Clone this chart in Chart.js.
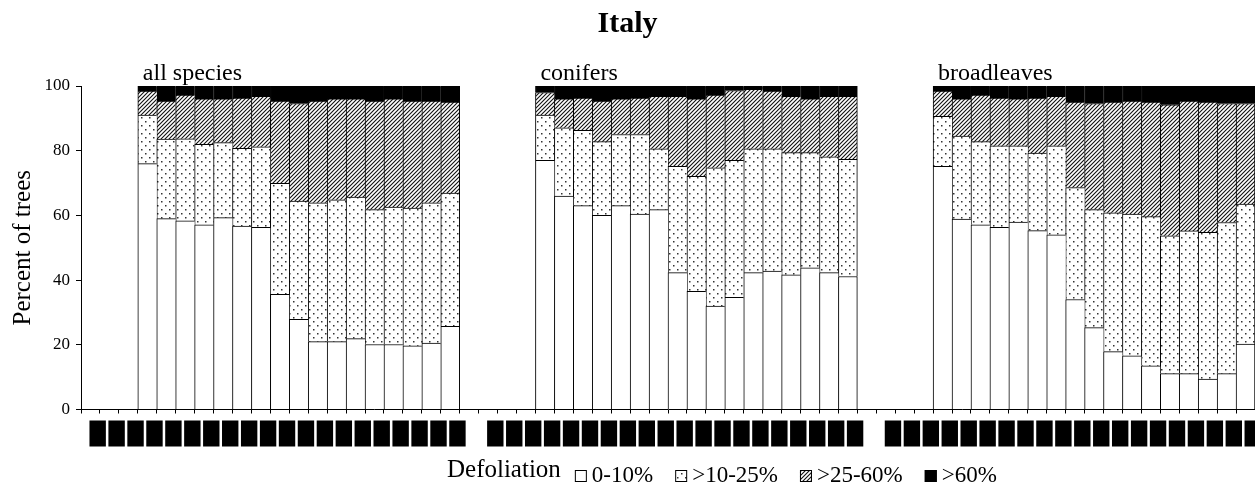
<!DOCTYPE html>
<html>
<head>
<meta charset="utf-8">
<title>Italy</title>
<script src="https://cdn.jsdelivr.net/npm/chart.js@4.4.0/dist/chart.umd.min.js"></script>
<style>
  html, body { margin: 0; padding: 0; background: #fff; }
  #wrap { width: 1255px; height: 489px; }
</style>
</head>
<body>
<div id="wrap"><canvas id="grafico"></canvas></div>
<script>
// Defoliation of trees in Italy, share of trees per class (%)
const groupNames = ['all species', 'conifers', 'broadleaves'];
const years = ['1985', '1986', '1987', '1988', '1989', '1990', '1991', '1992', '1993', '1994',
               '1995', '1996', '1997', '1998', '1999', '2000', '2001', '2002', '2003', '2004'];
const legendLabels = ['0-10%', '>10-25%', '>25-60%', '>60%'];
const firstBarSlot = 3; // no survey in the first three years

// all species
const allSpecies0_10  = [76.0, 59.0, 58.3, 57.1, 59.3, 56.7, 56.3, 35.6, 27.9, 21.0, 21.0, 21.9, 20.1, 20.1, 19.7, 20.5, 25.7];
const allSpecies10_25 = [15.0, 24.6, 25.4, 24.9, 23.2, 24.0, 24.9, 34.3, 36.5, 42.9, 43.8, 43.8, 41.7, 42.5, 42.6, 43.4, 41.2];
const allSpecies25_60 = [7.4, 11.7, 13.5, 14.0, 13.5, 15.6, 15.6, 25.4, 30.2, 31.4, 31.2, 30.3, 33.5, 33.4, 33.0, 31.4, 28.1];
const allSpecies60    = [1.6, 4.7, 2.8, 4.0, 4.0, 3.7, 3.2, 4.7, 5.4, 4.7, 4.0, 4.0, 4.7, 4.0, 4.7, 4.7, 5.0];

// conifers
const conifers0_10  = [77.0, 66.0, 63.0, 60.0, 63.0, 60.4, 61.8, 42.3, 36.5, 32.0, 34.7, 42.3, 42.8, 41.6, 43.8, 42.3, 41.1];
const conifers10_25 = [14.0, 21.1, 23.3, 22.8, 22.0, 24.6, 18.8, 32.9, 35.6, 42.7, 42.3, 38.3, 37.8, 37.8, 35.6, 35.8, 36.2];
const conifers25_60 = [7.0, 8.9, 10.0, 12.5, 11.0, 11.3, 16.2, 21.6, 23.9, 22.5, 21.6, 18.4, 17.8, 17.4, 16.6, 18.7, 19.5];
const conifers60    = [2.0, 4.0, 3.7, 4.7, 4.0, 3.7, 3.2, 3.2, 4.0, 2.8, 1.4, 1.0, 1.6, 3.2, 4.0, 3.2, 3.2];

// broadleaves
const broadleaves0_10  = [75.2, 58.9, 57.1, 56.3, 57.9, 55.3, 54.0, 34.0, 25.3, 17.9, 16.6, 13.5, 11.1, 11.1, 9.4, 11.1, 20.2];
const broadleaves10_25 = [15.4, 25.6, 25.7, 25.2, 23.6, 24.0, 27.5, 34.6, 36.5, 42.9, 43.8, 46.1, 42.6, 44.1, 45.4, 46.7, 43.3];
const broadleaves25_60 = [7.8, 11.5, 14.4, 14.8, 14.5, 17.0, 15.3, 26.4, 32.8, 34.2, 34.9, 35.4, 40.5, 40.1, 40.2, 36.8, 31.1];
const broadleaves60    = [1.6, 4.0, 2.8, 3.7, 4.0, 3.7, 3.2, 5.0, 5.4, 5.0, 4.7, 5.0, 5.8, 4.7, 5.0, 5.4, 5.4];

const FONT = '"Liberation Serif", "Times New Roman", serif';

// one category axis: three groups of years with an empty slot between them
const perClass = [
    [allSpecies0_10, conifers0_10, broadleaves0_10],
    [allSpecies10_25, conifers10_25, broadleaves10_25],
    [allSpecies25_60, conifers25_60, broadleaves25_60],
    [allSpecies60, conifers60, broadleaves60]
];
const labels = [];
const series = [[], [], [], []];
const groupStart = [];
groupNames.forEach(function(name, gi) {
    if (gi > 0) {
        labels.push('');
        series.forEach(function(s) { s.push(null); });
    }
    groupStart.push(labels.length);
    years.forEach(function(y, yi) {
        labels.push(y);
        series.forEach(function(s, ci) {
            s.push(yi < firstBarSlot ? null : perClass[ci][gi][yi - firstBarSlot]);
        });
    });
});
const groupEnd = groupStart.map(function(s) { return s + years.length - 1; });

// fill patterns
function makePattern(kind) {
    const c = document.createElement('canvas');
    const p = c.getContext('2d');
    if (kind === 'dots') {
        c.width = 8; c.height = 8;
        p.fillStyle = '#fff'; p.fillRect(0, 0, 8, 8);
        p.fillStyle = '#333';
        p.fillRect(1, 1, 1.5, 1.5);
        p.fillRect(5, 5, 1.5, 1.5);
    } else {
        c.width = 4; c.height = 4;
        p.fillStyle = '#fff'; p.fillRect(0, 0, 4, 4);
        p.strokeStyle = '#111'; p.lineWidth = 1.1;
        p.beginPath();
        p.moveTo(-1, 5); p.lineTo(5, -1);
        p.moveTo(-1, 1); p.lineTo(1, -1);
        p.moveTo(3, 5); p.lineTo(5, 3);
        p.stroke();
    }
    return p.createPattern(c, 'repeat');
}
const fills = ['#ffffff', makePattern('dots'), makePattern('hatch'), '#000000'];

const barBorder = function(ctx) {
    const last = groupEnd.indexOf(ctx.dataIndex) !== -1;
    return { top: 1, left: 1, bottom: 0, right: last ? 1 : 0 };
};

const datasets = legendLabels.map(function(lab, i) {
    return {
        label: lab,
        data: series[i],
        backgroundColor: fills[i],
        borderColor: '#000',
        borderWidth: barBorder,
        borderSkipped: false,
        barPercentage: 1,
        categoryPercentage: 1
    };
});

// group names above the bars and the legend line under the axis
const extras = {
    id: 'extras',
    afterDraw: function(chart) {
        const ctx = chart.ctx;
        const xs = chart.scales.x;
        const ys = chart.scales.y;
        const half = (xs.getPixelForValue(1) - xs.getPixelForValue(0)) / 2;
        ctx.save();
        ctx.fillStyle = '#000';
        ctx.textBaseline = 'alphabetic';
        ctx.textAlign = 'left';
        ctx.font = '24px ' + FONT;
        groupNames.forEach(function(name, gi) {
            const x = xs.getPixelForValue(groupStart[gi] + firstBarSlot) - half + 5;
            ctx.fillText(name, x, ys.getPixelForValue(100) - 6);
        });

        let x = 447;
        ctx.font = '25px ' + FONT;
        ctx.fillText('Defoliation', x, 477);
        x += ctx.measureText('Defoliation').width + 14;
        ctx.font = '23px ' + FONT;
        legendLabels.forEach(function(lab, i) {
            ctx.fillStyle = fills[i];
            ctx.fillRect(x, 470, 12, 12);
            ctx.strokeStyle = '#000';
            ctx.lineWidth = 1;
            ctx.strokeRect(x + 0.5, 470.5, 11, 11);
            ctx.fillStyle = '#000';
            x += 17;
            ctx.fillText(lab, x, 482);
            x += ctx.measureText(lab).width + 22;
        });
        ctx.restore();
    }
};

const config = {
    type: 'bar',
    data: { labels: labels, datasets: datasets },
    options: {
        responsive: true,
        maintainAspectRatio: false,
        animation: false,
        layout: { padding: { left: 0, right: 0, top: 0, bottom: 35.5 } },
        plugins: {
            legend: { display: false },
            tooltip: { enabled: false },
            title: {
                display: true,
                text: 'Italy',
                color: '#000',
                font: { family: FONT, size: 30, weight: 'bold' },
                padding: { top: 6, bottom: 44 }
            }
        },
        scales: {
            x: {
                stacked: true,
                offset: true,
                grid: { offset: true, drawOnChartArea: false, tickLength: 4, color: '#000' },
                border: { color: '#000', width: 1 },
                ticks: {
                    autoSkip: false,
                    minRotation: 90,
                    maxRotation: 90,
                    color: '#000',
                    padding: 8,
                    font: { family: FONT, size: 12 },
                    showLabelBackdrop: true,
                    backdropColor: function(ctx) { return labels[ctx.index] ? '#000' : 'rgba(0,0,0,0)'; },
                    backdropPadding: 1
                },
                afterFit: function(scale) { scale.paddingRight = 0; scale.paddingLeft = 0; }
            },
            y: {
                stacked: true,
                min: 0,
                max: 100,
                ticks: { stepSize: 20, color: '#000', padding: 6, font: { family: FONT, size: 17 } },
                grid: { drawOnChartArea: false, tickLength: 5, color: '#000' },
                border: { color: '#000', width: 1 },
                title: {
                    display: true,
                    text: 'Percent of trees',
                    color: '#000',
                    font: { family: FONT, size: 25 },
                    padding: { top: 8, bottom: 0 }
                },
                afterFit: function(scale) { scale.width = 81; }
            }
        }
    },
    plugins: [extras]
};

window.onload = function() {
    new Chart(document.getElementById('grafico'), config);
};
</script>
</body>
</html>
